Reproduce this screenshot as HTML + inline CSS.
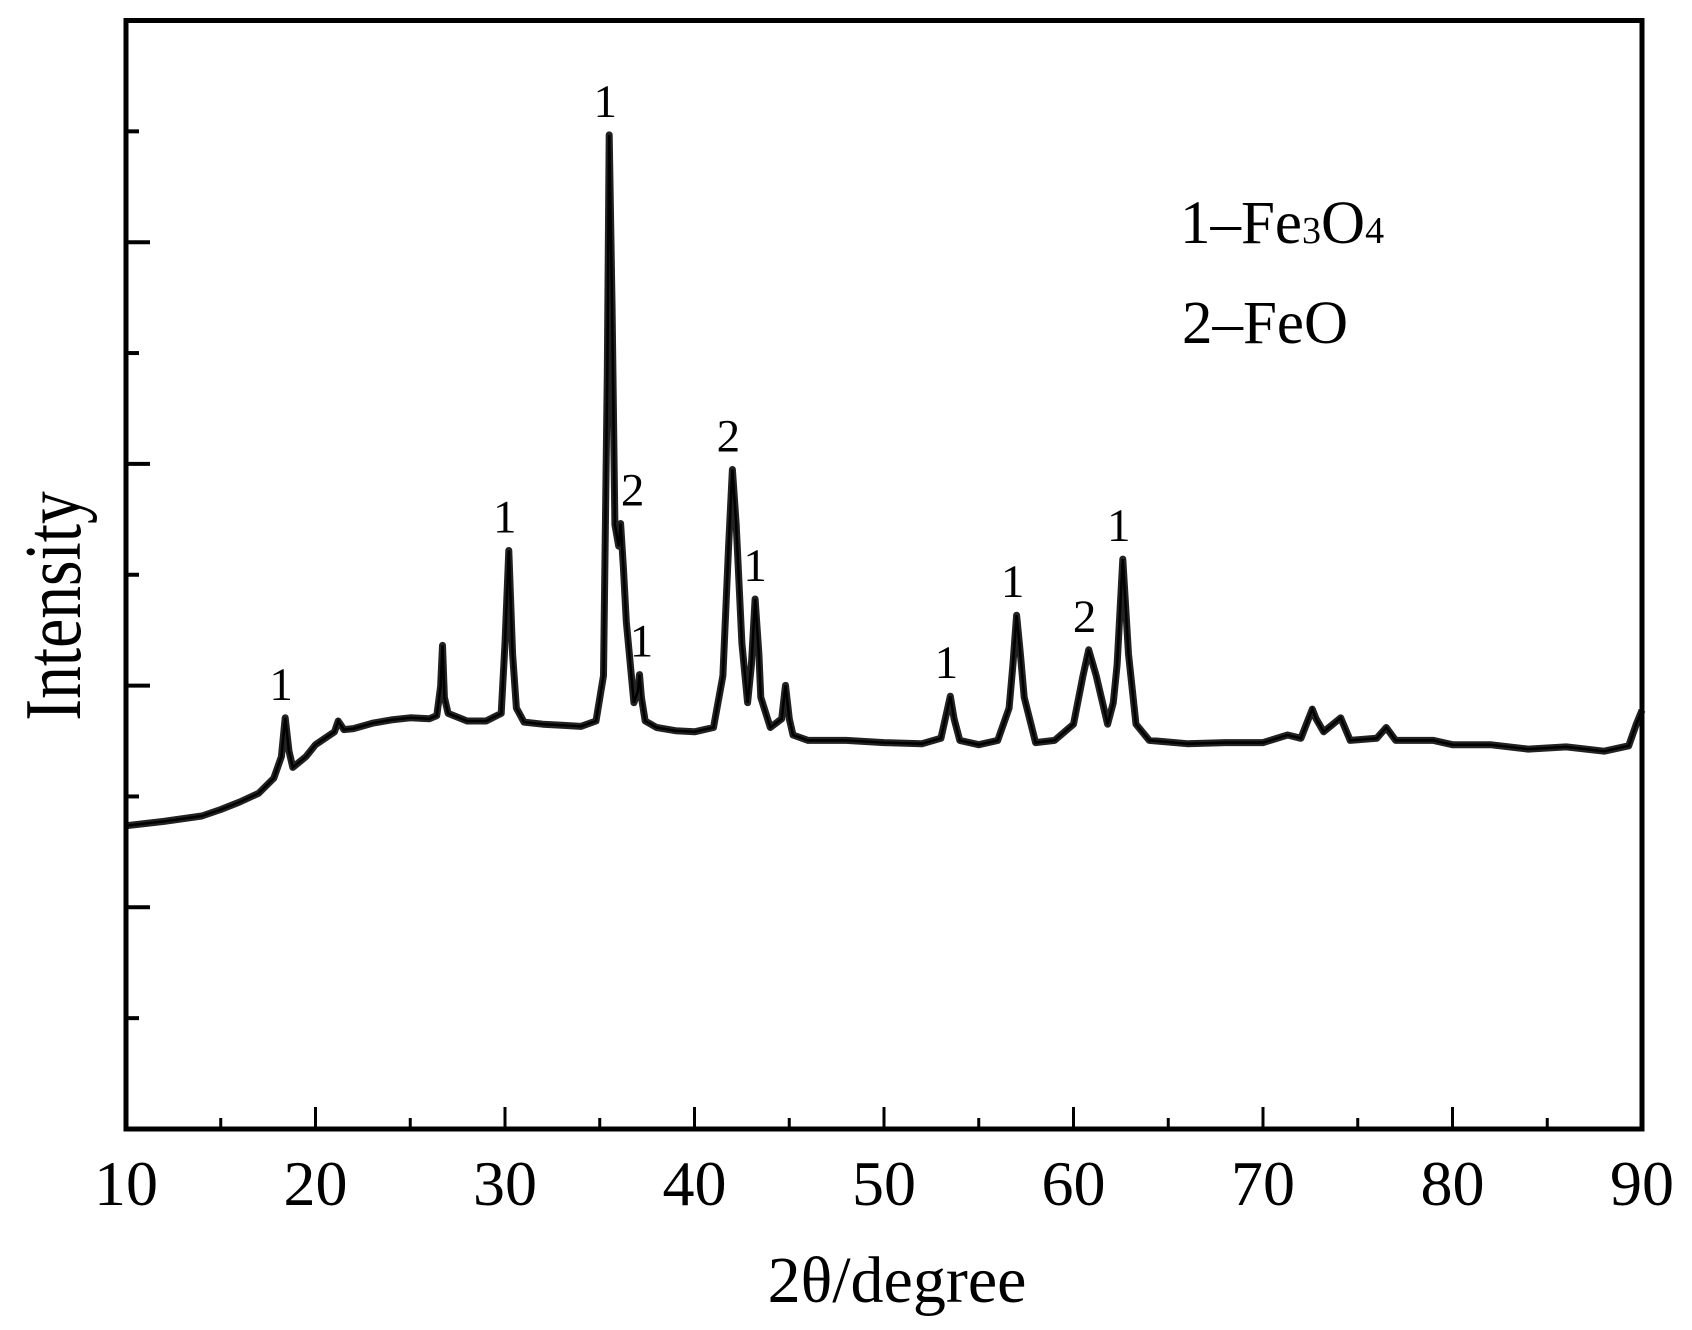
<!DOCTYPE html>
<html><head><meta charset="utf-8"><style>
html,body{margin:0;padding:0;background:#fff;}
svg{display:block;font-family:"Liberation Serif",serif;}
</style></head><body>
<svg id="chart" width="1692" height="1330" viewBox="0 0 1692 1330">
<g id="plot"></g>
<g id="axes"></g>
<g id="labels"></g>
</svg>
<script>
const twoTheta = [10,12,14,15,16,17,17.8,18.2,18.4,18.6,18.8,19.5,20,21,21.2,21.5,22,23,24,25,26,26.4,26.6,26.7,26.8,27,28,29,29.8,30.0,30.2,30.4,30.6,31,32,33,34,34.8,35.2,35.4,35.5,35.65,35.8,36.0,36.1,36.25,36.4,36.8,37.0,37.1,37.2,37.4,38,39,40,41,41.5,41.8,42.0,42.2,42.5,42.8,43.0,43.2,43.4,43.5,44,44.6,44.8,45.0,45.2,46,48,50,52,53,53.3,53.5,53.7,54,55,56,56.6,56.8,57,57.2,57.4,58,59,60,60.5,60.8,61.2,61.8,62.1,62.3,62.6,62.9,63.3,64,66,68,70,71.3,72,72.4,72.6,72.8,73.2,74.1,74.6,76,76.5,77,79,80,82,84,86,88,89.3,89.7,90];
const intensity = [281,285,290,296,303,311,325,345,381,350,335,345,356,368,378,370,371,376,379,381,380,383,410,448,400,385,378,378,385,450,536,440,390,377,375,374,373,378,420,700,921,760,560,540,561,520,470,395,405,421,400,378,372,369,368,372,420,540,611,560,450,395,430,491,440,400,372,380,411,380,365,360,360,358,357,362,385,401,380,360,356,360,390,430,476,440,400,358,360,375,420,444,420,375,395,430,528,440,375,360,357,358,358,365,362,380,389,380,368,381,360,362,372,360,360,356,356,352,354,350,355,375,388];
const xTicks = [10,20,30,40,50,60,70,80,90];
const peakX = [18.4,30.2,35.5,36.1,37.1,42.0,43.2,53.5,57.0,60.8,62.6];
const peakY = [381,536,921,561,421,611,491,401,476,444,528];
const peakLabel = ["1","1","1","2","1","2","1","1","1","2","1"];
const peakDx = [-4,-4,-4,12,2,-4,0,-4,-4,-4,-4];

const L=126,R=1642,T=20.5,B=1129, X0=10,X1=90, Y0=0,Y1=1027;
function xs(v){return L+(v-X0)/(X1-X0)*(R-L);}
function ys(v){return B-(v-Y0)/(Y1-Y0)*(B-T);}
const NS="http://www.w3.org/2000/svg";
function mk(tag,attrs,parent){const e=document.createElementNS(NS,tag);for(const k in attrs)e.setAttribute(k,attrs[k]);parent.appendChild(e);return e;}
const plot=document.getElementById('plot'),axes=document.getElementById('axes'),labels=document.getElementById('labels');

let d='';
for(let i=0;i<twoTheta.length;i++){d+=(i?'L':'M')+xs(twoTheta[i]).toFixed(1)+' '+ys(intensity[i]).toFixed(1);}
const band=mk('path',{d:d,fill:'none',stroke:'#222','stroke-width':7,'stroke-linejoin':'round'},plot);


const line=mk('path',{d:d,fill:'none',stroke:'#000','stroke-width':2.5,'stroke-linejoin':'miter'},plot);



const frame=mk('rect',{x:L,y:T,width:R-L,height:B-T,fill:'none',stroke:'#000','stroke-width':5},axes);



for(let v=10;v<=90;v+=5){
  const major=(v%10===0);
  const t=mk('line',{x1:xs(v),x2:xs(v),y1:B,y2:B-(major?22:11),stroke:'#000','stroke-width':3},axes);
  
  
}
const yStep=Y1/10;
for(let i=1;i<10;i++){
  const major=(i%2===0);
  const t=mk('line',{x1:L,x2:L+(major?24:13),y1:ys(i*yStep),y2:ys(i*yStep),stroke:'#000','stroke-width':4},axes);
  
  
}
xTicks.forEach(v=>{
  const t=mk('text',{x:xs(v),y:1205,'font-size':64,'text-anchor':'middle'},labels);
  t.textContent=String(v);
  
  
});
peakX.forEach((v,i)=>{
  const t=mk('text',{x:xs(v)+peakDx[i],y:ys(peakY[i])-18,'font-size':47,'text-anchor':'middle'},labels);
  t.textContent=peakLabel[i];
  
  
});
</script>
<svg style="position:absolute;left:0;top:0" width="1692" height="1330">
<text x="897" y="1302" font-size="66" text-anchor="middle" font-family="Liberation Serif,serif">2θ/degree</text>
<text transform="translate(80,606) rotate(-90) scale(0.82,1)" font-size="80" text-anchor="middle" font-family="Liberation Serif,serif">Intensity</text>
<text x="1180" y="243" font-size="61" font-family="Liberation Serif,serif">1–Fe<tspan font-size="38">3</tspan>O<tspan font-size="38">4</tspan></text>
<text x="1182" y="343" font-size="61" font-family="Liberation Serif,serif">2–FeO</text>
</svg>
</body></html>
